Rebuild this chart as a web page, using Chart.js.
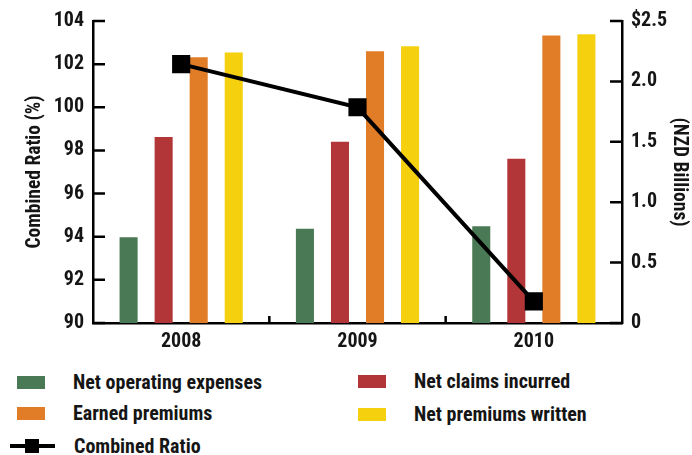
<!DOCTYPE html>
<html>
<head>
<meta charset="utf-8">
<script src="https://cdn.jsdelivr.net/npm/chart.js@4"></script>
<style>
  body { margin: 0; background: #fff; }
  #wrap { position: relative; width: 692px; height: 455px; font-family: "Roboto Condensed", "Open Sans", sans-serif; }
  #chartBox { position: absolute; left: 0; top: 0; width: 692px; height: 355px; }
  .item { position: absolute; font-size: 20px; font-weight: bold; color: #151515; line-height: 24px; white-space: nowrap; }
  .sw { position: absolute; width: 28px; height: 13px; }
</style>
</head>
<body>
<div id="wrap">
  <div id="chartBox"><canvas id="chart"></canvas></div>
  <div id="legend"></div>
</div>
<script>
const years = ['2008', '2009', '2010'];
const netOperatingExpenses = [0.71, 0.78, 0.80];
const netClaimsIncurred = [1.54, 1.50, 1.36];
const earnedPremiums = [2.20, 2.25, 2.38];
const netPremiumsWritten = [2.24, 2.29, 2.39];
const combinedRatio = [102.0, 100.0, 91.0];
const leftTickLabels = ['90', '92', '94', '96', '98', '100', '102', '104'];
const rightTickLabels = ['0', '0.5', '1.0', '1.5', '2.0', '$2.5'];

const green = '#4a7a55', red = '#b23638', orange = '#e07d26', yellow = '#f5d00f';
const fontFam = '"Roboto Condensed", "Open Sans", sans-serif';
const tickFont = { family: fontFam, size: 20, weight: 'bold' };
const titleFont = { family: fontFam, size: 19.5, weight: 'bold' };

// short tick marks pointing into the plot, as in the print original
const innerTicks = {
  id: 'innerTicks',
  afterDraw(chart) {
    const ctx = chart.ctx;
    const area = chart.chartArea;
    ctx.save();
    ctx.strokeStyle = '#000';
    ctx.lineWidth = 2.5;
    ctx.beginPath();
    const yl = chart.scales.yLeft;
    yl.ticks.forEach((t, i) => {
      const y = yl.getPixelForTick(i);
      ctx.moveTo(area.left, y);
      ctx.lineTo(area.left + 12, y);
    });
    const yr = chart.scales.yRight;
    yr.ticks.forEach((t, i) => {
      const y = yr.getPixelForTick(i);
      ctx.moveTo(area.right, y);
      ctx.lineTo(area.right - 12, y);
    });
    const x = chart.scales.x;
    for (let i = 0; i < x.ticks.length - 1; i++) {
      const px = (x.getPixelForTick(i) + x.getPixelForTick(i + 1)) / 2;
      ctx.moveTo(px, area.bottom);
      ctx.lineTo(px, area.bottom - 7);
    }
    ctx.stroke();
    ctx.restore();
  }
};

function barSet(label, data, color) {
  return {
    type: 'bar', label: label, data: data, yAxisID: 'yRight',
    backgroundColor: color, borderWidth: 0, order: 1,
    categoryPercentage: 0.795, barPercentage: 0.515
  };
}

new Chart(document.getElementById('chart'), {
  data: {
    labels: years,
    datasets: [
      {
        type: 'line', label: 'Combined Ratio', data: combinedRatio, yAxisID: 'yLeft',
        borderColor: '#000', backgroundColor: '#000', borderWidth: 4,
        pointStyle: 'rect', pointRadius: 10, pointHoverRadius: 10, order: 0
      },
      barSet('Net operating expenses', netOperatingExpenses, green),
      barSet('Net claims incurred', netClaimsIncurred, red),
      barSet('Earned premiums', earnedPremiums, orange),
      barSet('Net premiums written', netPremiumsWritten, yellow)
    ]
  },
  options: {
    responsive: true,
    maintainAspectRatio: false,
    animation: false,
    layout: { padding: { top: 20, left: 0, right: 0, bottom: 0 } },
    plugins: { legend: { display: false }, tooltip: { enabled: false } },
    scales: {
      x: {
        grid: { display: false, drawTicks: false },
        border: { display: true, color: '#000', width: 2.5 },
        ticks: { color: '#151515', font: tickFont, padding: 7 },
        afterFit(s) { s.height = 32; }
      },
      yLeft: {
        position: 'left', min: 90, max: 104,
        grid: { display: false, drawTicks: false },
        border: { display: true, color: '#000', width: 2.5 },
        ticks: {
          stepSize: 2, color: '#151515', font: tickFont, padding: 9,
          callback: (v, i) => leftTickLabels[i]
        },
        title: {
          display: true, text: 'Combined Ratio (%)', color: '#151515',
          font: titleFont, padding: { top: 23 }
        },
        afterFit(s) { s.width = 93; }
      },
      yRight: {
        position: 'right', min: 0, max: 2.5,
        grid: { display: false, drawTicks: false },
        border: { display: true, color: '#000', width: 2.5 },
        ticks: {
          stepSize: 0.5, color: '#151515', font: tickFont, padding: 9,
          callback: (v, i) => rightTickLabels[i]
        },
        title: {
          display: true, text: '(NZD Billions)', color: '#151515',
          font: titleFont, padding: { top: 1 }
        },
        afterFit(s) { s.width = 70; }
      }
    }
  },
  plugins: [innerTicks]
});

// legend laid out like the original: two columns, line entry on its own row
const legendItems = [
  { text: 'Net operating expenses', color: green, x: 17, y: 376 },
  { text: 'Net claims incurred', color: red, x: 358, y: 375 },
  { text: 'Earned premiums', color: orange, x: 17, y: 407 },
  { text: 'Net premiums written', color: yellow, x: 358, y: 408 }
];
const legend = document.getElementById('legend');
legendItems.forEach(it => {
  const sw = document.createElement('div');
  sw.className = 'sw';
  sw.style.left = it.x + 'px';
  sw.style.top = it.y + 'px';
  sw.style.background = it.color;
  legend.appendChild(sw);
  const tx = document.createElement('div');
  tx.className = 'item';
  tx.style.left = (it.x + 56) + 'px';
  tx.style.top = (it.y - 6) + 'px';
  tx.textContent = it.text;
  legend.appendChild(tx);
});
const lineKey = document.createElement('div');
lineKey.innerHTML = '<div style="position:absolute;left:10px;top:444px;width:45px;height:4px;background:#000"></div>' +
  '<div style="position:absolute;left:25px;top:439px;width:14px;height:14px;background:#000"></div>' +
  '<div class="item" style="left:74px;top:434px">Combined Ratio</div>';
legend.appendChild(lineKey);
</script>
</body>
</html>
